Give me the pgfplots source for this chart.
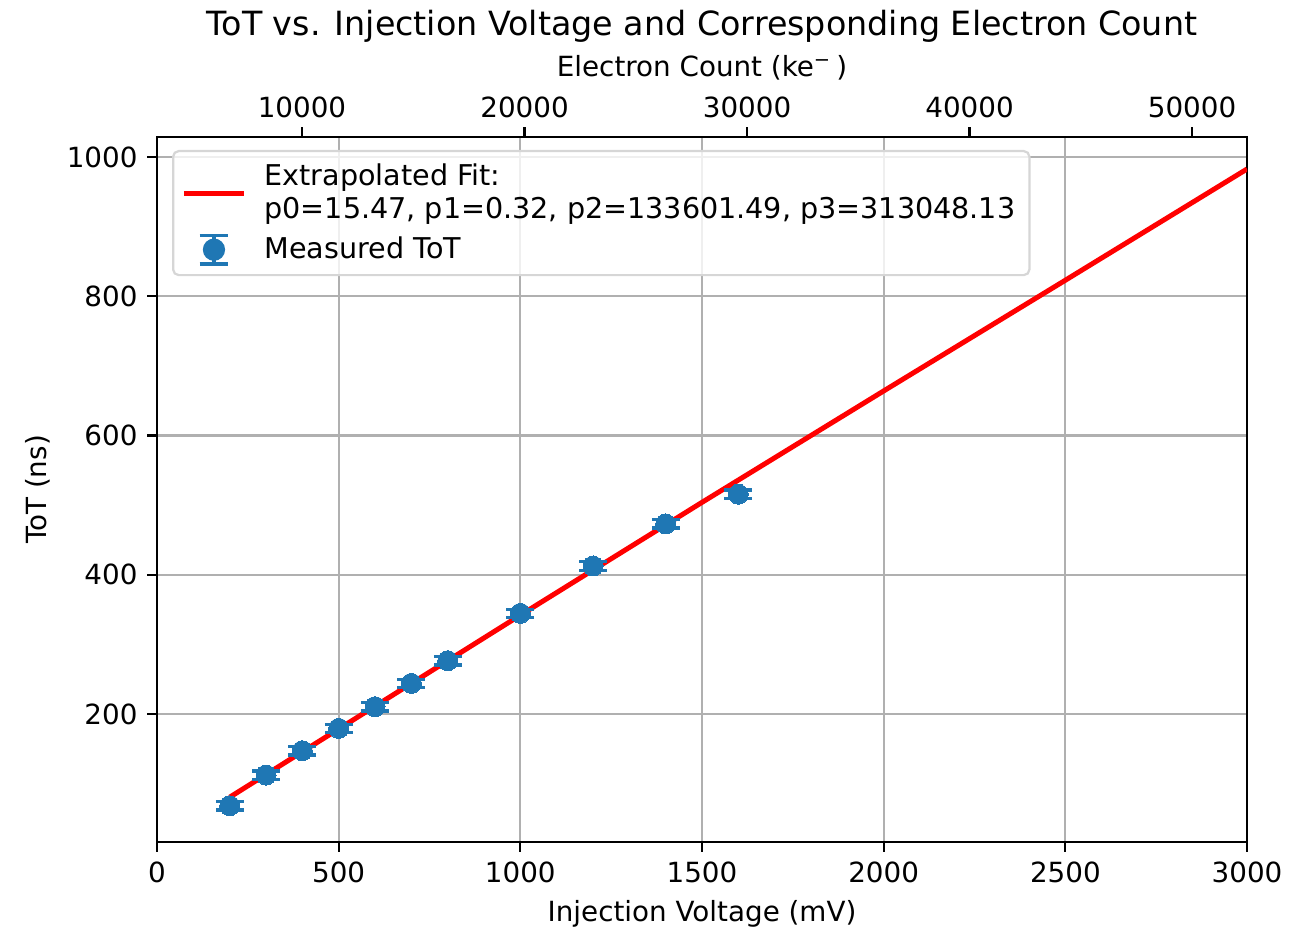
\documentclass[border=0pt]{standalone}
\usepackage{fontspec}
\setmainfont{DejaVu Sans}
\usepackage{pgfplots}
\pgfplotsset{compat=1.18}
\definecolor{tabblue}{HTML}{1F77B4}
\definecolor{gridgray}{HTML}{B0B0B0}
\definecolor{legframe}{HTML}{D6D6D6}
\begin{document}
\begin{tikzpicture}
\begin{axis}[name=main, scale only axis, width=392.4pt, height=253.8pt,
  xmin=0, xmax=3000, ymin=16.2, ymax=1028.7,
  xtick={0,500,...,3000}, ytick={200,400,600,800,1000},
  tick align=outside, xtick pos=bottom, ytick pos=left, major tick length=3.5pt,
  tick style={black, line width=0.8pt},
  axis line style={line width=0.8pt},
  grid=major, major grid style={gridgray, line width=0.8pt},
  /pgf/number format/assume math mode=true, /pgf/number format/1000 sep={},
  scaled ticks=false,
  xlabel={Injection Voltage (mV)}, ylabel={ToT (ns)},
  xlabel style={at={(axis description cs:0.5,-0.1021)}, anchor=center},
  ylabel style={at={(axis description cs:-0.1091,0.5)}, anchor=center},
  legend style={at={(0.0138,0.9816)}, anchor=north west, draw=legframe, line width=0.8pt,
    rounded corners=2pt, fill=white, fill opacity=0.8, text opacity=1,
    inner xsep=3pt, inner ysep=2.5pt, font=\fontsize{10.3}{12}\selectfont,
    cells={align=left, anchor=west}, row sep=1pt,
    /tikz/every odd column/.append style={column sep=4.5pt}},
  legend cell align=left,
]
\addplot[red, line width=1.8pt, legend image code/.code={\draw[red, line width=1.8pt] (0pt,0pt) -- (21.6pt,0pt);}]
  coordinates {(200,80.5) (500,178.5) (1000,342) (1500,504) (2000,664) (2500,823) (3000,982.7)};
\addlegendentry{Extrapolated Fit:\\p0=15.47, p1=0.32, p2=133601.49, p3=313048.13}
\addplot[only marks, mark=*, mark size=3.6pt, color=tabblue,
  mark options={fill=tabblue, draw=tabblue, line width=0pt},
  legend image code/.code={
    \draw[tabblue, line width=1.2pt, draw opacity=1] (10.8pt,-5.2pt)--(10.8pt,5.2pt) (5.6pt,-5.2pt)--(16pt,-5.2pt) (5.6pt,5.2pt)--(16pt,5.2pt);
    \fill[tabblue, fill opacity=1] (10.8pt,0pt) circle (3.6pt);},
  error bars/.cd, y dir=both, y explicit,
  error bar style={line width=1.2pt, tabblue},
  error mark options={rotate=90, line width=1.2pt, mark size=5pt, tabblue}]
  table[x=x, y=y, y error=e] {
x y e
200 68.3 6
300 112.4 6
400 147.3 6
500 179.4 6
600 210.5 6
700 244 6
800 276.6 6
1000 344.6 6
1200 412.6 6
1400 473 6
1600 515.7 6
};
\addlegendentry{Measured ToT}
\end{axis}
\begin{axis}[scale only axis, width=392.4pt, height=253.8pt,
  at={(main.south west)}, anchor=south west,
  xmin=3483, xmax=52470, ymin=0, ymax=1,
  axis x line*=top, axis y line=none,
  xtick={10000,20000,30000,40000,50000},
  tick align=outside, major tick length=3.5pt,
  tick style={black, line width=0.8pt},
  axis line style={line width=0.8pt},
  /pgf/number format/assume math mode=true, /pgf/number format/1000 sep={},
  scaled ticks=false,
  xlabel={Electron Count (ke\textsuperscript{−}\,)},
  xlabel style={at={(axis description cs:0.5,1.1009)}, anchor=center, yshift=-0.7pt},
  title={ToT vs. Injection Voltage and Corresponding Electron Count},
  title style={at={(axis description cs:0.5,1.1604)}, anchor=center, yshift=-6.7pt, font=\fontsize{12}{14}\selectfont},
]
\end{axis}
\pgfresetboundingbox
\path ([shift={(-56.52pt,-32.04pt)}]main.south west) rectangle ([shift={(18.72pt,49.32pt)}]main.north east);
\end{tikzpicture}
\end{document}
